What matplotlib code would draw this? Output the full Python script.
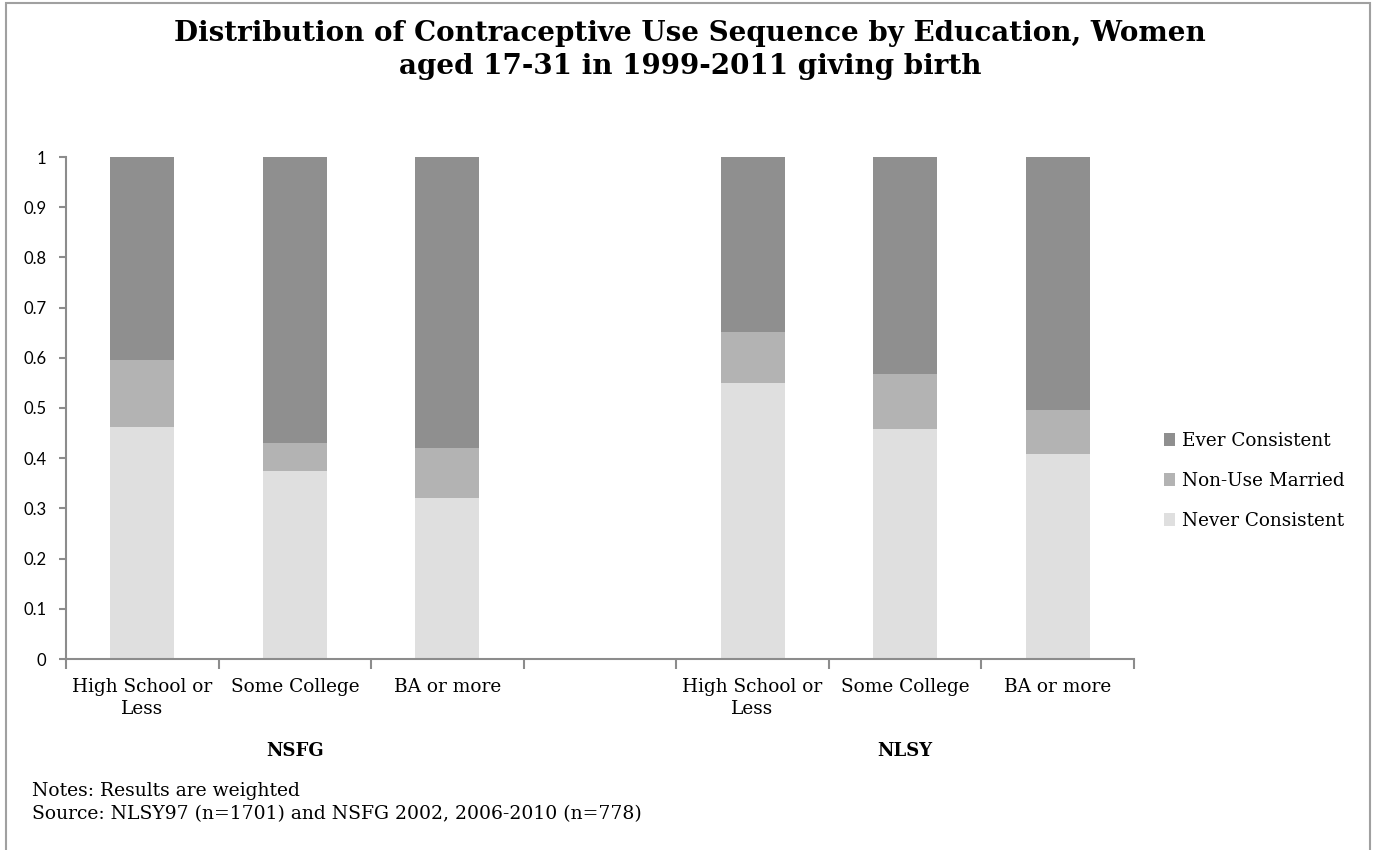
import matplotlib.pyplot as plt
from matplotlib.patches import Rectangle
import numpy as np

# Shares by education, NSFG then NLSY (an empty slot sits between the two surveys)
groups = ["NSFG", "NLSY"]
education = ["High School or\nLess", "Some College", "BA or more"]
never_consistent = [0.463, 0.374, 0.320, 0.550, 0.459, 0.409]
non_use_married = [0.133, 0.057, 0.100, 0.102, 0.109, 0.087]
ever_consistent = [0.404, 0.569, 0.580, 0.348, 0.432, 0.504]
yticks = [0, 0.1, 0.2, 0.3, 0.4, 0.5, 0.6, 0.7, 0.8, 0.9, 1]

plt.rcParams['font.family'] = ['DejaVu Serif']
col_never = "#dfdfdf"
col_nonuse = "#b3b3b3"
col_ever = "#8f8f8f"
axis_col = "#8c8c8c"

fig = plt.figure(figsize=(13.77, 8.5), dpi=100)
ax = fig.add_axes([66/1377, 1-659/850, (1134-66)/1377, (659-157)/850])

# slots 0-2 for NSFG, slot 3 empty, 4-6 for NLSY
xpos = np.array([0, 1, 2, 4, 5, 6])
never = np.array(never_consistent)
nonuse = np.array(non_use_married)
ever = np.array(ever_consistent)
w = 0.42
ax.bar(xpos, never, w, color=col_never, label="Never Consistent")
ax.bar(xpos, nonuse, w, bottom=never, color=col_nonuse, label="Non-Use Married")
ax.bar(xpos, ever, w, bottom=never+nonuse, color=col_ever, label="Ever Consistent")

ax.set_xlim(-0.5, 6.5)
ax.set_ylim(0, 1)
ax.set_yticks(yticks)
ax.set_yticklabels([f"{t:g}" for t in yticks], fontsize=12, family="Lato")
ax.set_xticks(np.arange(-0.5, 7, 1))
ax.set_xticklabels([])
ax.tick_params(axis="x", length=7, color=axis_col, width=1.5, direction="out")
ax.tick_params(axis="y", length=5, color=axis_col, width=1.5, direction="out", pad=9)

for s in ["top", "right"]:
    ax.spines[s].set_visible(False)
for s in ["left", "bottom"]:
    ax.spines[s].set_color(axis_col)
    ax.spines[s].set_linewidth(1.5)

# category and group labels under the axis
trans = ax.get_xaxis_transform()
for i, x in enumerate(xpos):
    ax.text(x, -0.038, education[i % 3], transform=trans, ha="center", va="top",
            fontsize=13.3, linespacing=1.25)
for g, x in zip(groups, [1, 5]):
    ax.text(x, -0.165, g, transform=trans, ha="center", va="top",
            fontsize=13, fontweight="bold")

handles, labels = ax.get_legend_handles_labels()
fig.legend(handles[::-1], labels[::-1], loc="center left",
           bbox_to_anchor=(1147/1377, 1-481/850), frameon=False, fontsize=13.2,
           handlelength=0.65, handleheight=0.65, handletextpad=0.35, labelspacing=1.2)

fig.suptitle("Distribution of Contraceptive Use Sequence by Education, Women\n"
             "aged 17-31 in 1999-2011 giving birth", x=690/1377, y=1-20/850,
             fontsize=20, fontweight="bold", va="top", linespacing=1.3)

fig.text(32/1377, 1-791/850, "Notes: Results are weighted", fontsize=13.5, va="center")
fig.text(32/1377, 1-814/850, "Source: NLSY97 (n=1701) and NSFG 2002, 2006-2010 (n=778)",
         fontsize=13.5, va="center")

# chart frame, bottom edge falls outside the image
fig.patches.append(Rectangle((6/1377, -0.05), (1370-6)/1377, 1.05-3/850,
                             transform=fig.transFigure, fill=False,
                             edgecolor="#a0a0a0", linewidth=1.5))

fig.savefig("out.png", dpi=100)
